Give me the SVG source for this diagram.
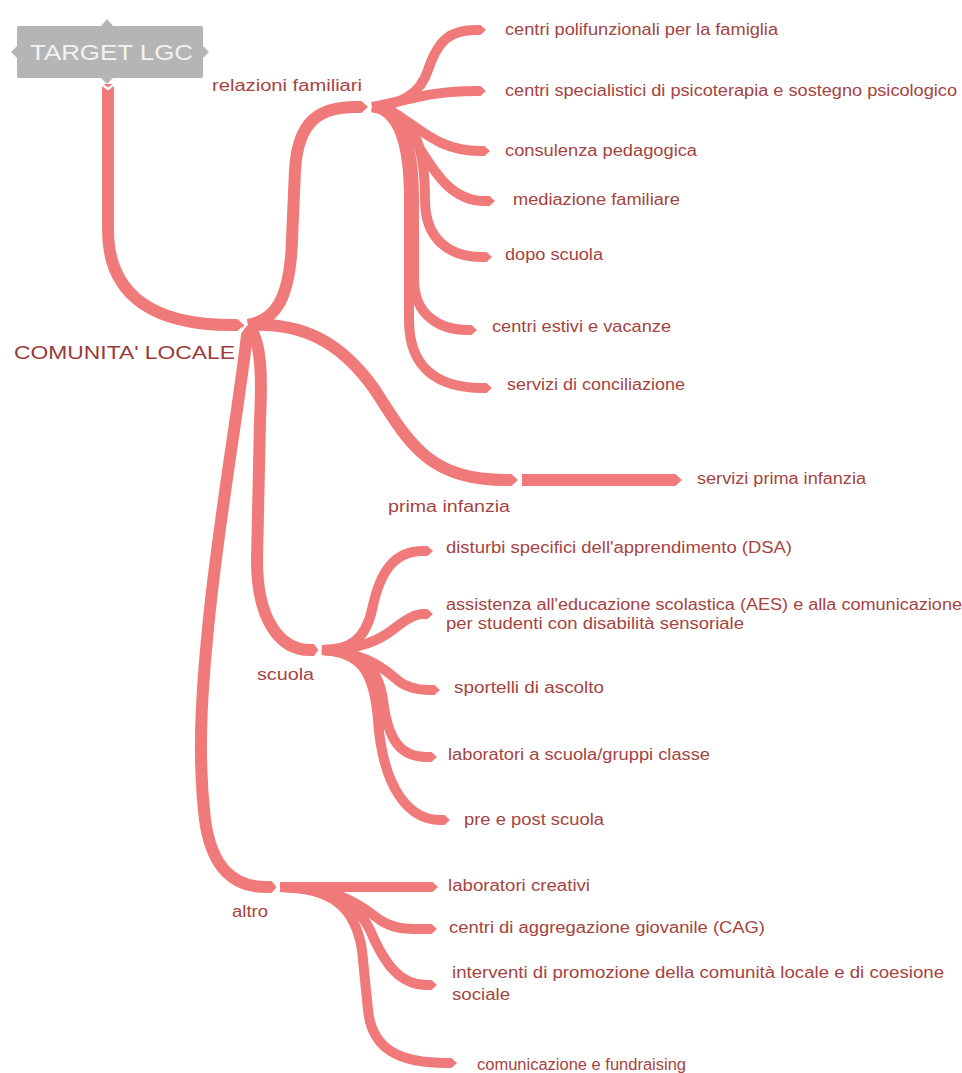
<svg xmlns="http://www.w3.org/2000/svg" width="962" height="1073" viewBox="0 0 962 1073">
<defs>
<marker id="tip" markerUnits="strokeWidth" markerWidth="1" markerHeight="1" viewBox="0 -0.5 1 1" refX="0" refY="0" orient="auto">
<path d="M0,-0.5 L0.45,-0.5 L1,0 L0.45,0.5 L0,0.5Z" fill="#f07a7a"/>
</marker>
<style>
.br{fill:none;stroke:#f07a7a;stroke-linecap:butt;stroke-linejoin:round}
.m{stroke-width:12}
.l{stroke-width:10}
.n{fill:none;stroke:#ffffff;stroke-width:2.5}
.t{font-family:"Liberation Sans",Arial,sans-serif;font-size:16px;fill:#a5443f}
.c{font-family:"Liberation Sans",Arial,sans-serif;font-size:19px;fill:#9c3a38}
</style>
</defs>
<rect width="962" height="1073" fill="#ffffff"/>
<g id="connectors">
<path class="br m" marker-end="url(#tip)" d="M108,84 L108,230 C108,300 160,325 232,325"/>
<path class="br m" marker-end="url(#tip)" d="M248,325 C275,320 290,300 292,240 L295,170 C298,120 320,107 356,107"/>
<path class="br m" marker-end="url(#tip)" d="M248,325 C300,322 340,340 375,390 C410,445 430,480 506,480"/>
<path class="br m" marker-end="url(#tip)" d="M522,480 L670,480"/>
<path class="br m" marker-end="url(#tip)" d="M248,325 C262,340 262,380 260,420 L257,560 C257,620 280,650 310,650"/>
<path class="br m" marker-end="url(#tip)" d="M248,325 C243,380 222,500 211,600 C200,700 198,760 205,820 C212,870 235,887 266,887"/>
<path class="br l" marker-end="url(#tip)" d="M372,107 C400,105 420,95 428,70 C438,40 450,30 476,30"/>
<path class="br l" marker-end="url(#tip)" d="M372,107 C410,100 430,91 476,91"/>
<path class="br l" marker-end="url(#tip)" d="M372,107 C410,110 425,151 480,151"/>
<path class="br l" marker-end="url(#tip)" d="M372,107 C420,110 425,201 485,201"/>
<path class="br l" marker-end="url(#tip)" d="M372,107 C420,110 425,160 425,200 C425,240 450,257 482,257"/>
<path class="br l" marker-end="url(#tip)" d="M372,107 C405,110 414,150 414,200 L414,280 C414,315 440,330 467,330"/>
<path class="br l" marker-end="url(#tip)" d="M372,107 C400,110 409,150 409,200 L409,320 C409,370 440,388 482,388"/>
<path class="br l" marker-end="url(#tip)" d="M322,650 C350,650 365,640 372,610 C380,570 395,551 423,551"/>
<path class="br l" marker-end="url(#tip)" d="M322,650 C360,650 380,640 395,628 C405,620 415,614 423,614"/>
<path class="br l" marker-end="url(#tip)" d="M322,650 C360,652 380,665 395,678 C405,688 420,690 430,690"/>
<path class="br l" marker-end="url(#tip)" d="M322,650 C360,652 378,665 383,700 C388,740 400,757 427,757"/>
<path class="br l" marker-end="url(#tip)" d="M322,650 C360,652 374,670 378,720 C383,790 410,820 440,820"/>
<path class="br l" marker-end="url(#tip)" d="M280,887 L428,887"/>
<path class="br l" marker-end="url(#tip)" d="M280,887 C340,888 360,905 380,920 C395,930 410,929 427,929"/>
<path class="br l" marker-end="url(#tip)" d="M280,887 C330,888 355,900 370,930 C385,965 400,985 427,985"/>
<path class="br l" marker-end="url(#tip)" d="M280,887 C330,888 355,905 362,950 L368,1010 C372,1050 400,1063 447,1063"/>
<polyline class="n" points="239,316 246,325 239,334"/>
<polyline class="n" points="364,99 370,107 364,115"/>
<polyline class="n" points="514,472 520,480 514,488"/>
<polyline class="n" points="314,642 320,650 314,658"/>
<polyline class="n" points="272,879 278,887 272,895"/>
<polyline class="n" points="100,83 108,89 116,83"/>
</g>
<g id="target-lgc">
<rect x="17" y="26" width="186" height="52" rx="2" fill="#b5b5b5"/>
<polygon points="101,26 107,19 113,26" fill="#b5b5b5"/>
<polygon points="101,78 107,84 113,78" fill="#b5b5b5"/>
<polygon points="17,46 11,52 17,58" fill="#b5b5b5"/>
<polygon points="203,46 209,52 203,58" fill="#b5b5b5"/>
<text x="30" y="60" font-family="Liberation Sans, Arial, sans-serif" font-size="22" fill="#f2f2f2" textLength="163" lengthAdjust="spacingAndGlyphs">TARGET LGC</text>
</g>
<g id="comunita-locale"><text class="c" x="14" y="359" textLength="221" lengthAdjust="spacingAndGlyphs">COMUNITA' LOCALE</text></g>
<g id="relazioni-familiari"><text class="t" x="212" y="91" textLength="150" lengthAdjust="spacingAndGlyphs">relazioni familiari</text></g>
<g id="centri-polifunzionali"><text class="t" x="505" y="35" textLength="273" lengthAdjust="spacingAndGlyphs">centri polifunzionali per la famiglia</text></g>
<g id="centri-specialistici"><text class="t" x="505" y="96" textLength="452" lengthAdjust="spacingAndGlyphs">centri specialistici di psicoterapia e sostegno psicologico</text></g>
<g id="consulenza"><text class="t" x="505" y="156" textLength="192" lengthAdjust="spacingAndGlyphs">consulenza pedagogica</text></g>
<g id="mediazione"><text class="t" x="513" y="205" textLength="167" lengthAdjust="spacingAndGlyphs">mediazione familiare</text></g>
<g id="dopo-scuola"><text class="t" x="505" y="260" textLength="98" lengthAdjust="spacingAndGlyphs">dopo scuola</text></g>
<g id="centri-estivi"><text class="t" x="492" y="332" textLength="179" lengthAdjust="spacingAndGlyphs">centri estivi e vacanze</text></g>
<g id="servizi-conciliazione"><text class="t" x="507" y="390" textLength="178" lengthAdjust="spacingAndGlyphs">servizi di conciliazione</text></g>
<g id="prima-infanzia"><text class="t" x="388" y="512" textLength="122" lengthAdjust="spacingAndGlyphs">prima infanzia</text></g>
<g id="servizi-prima-infanzia"><text class="t" x="697" y="484" textLength="169" lengthAdjust="spacingAndGlyphs">servizi prima infanzia</text></g>
<g id="scuola"><text class="t" x="257" y="680" textLength="57" lengthAdjust="spacingAndGlyphs">scuola</text></g>
<g id="dsa"><text class="t" x="446" y="553" textLength="346" lengthAdjust="spacingAndGlyphs">disturbi specifici dell'apprendimento (DSA)</text></g>
<g id="aes"><text class="t" x="446" y="610" textLength="516" lengthAdjust="spacingAndGlyphs">assistenza all'educazione scolastica (AES) e alla comunicazione</text><text class="t" x="446" y="629" textLength="298" lengthAdjust="spacingAndGlyphs">per studenti con disabilità sensoriale</text></g>
<g id="sportelli"><text class="t" x="454" y="693" textLength="150" lengthAdjust="spacingAndGlyphs">sportelli di ascolto</text></g>
<g id="laboratori-scuola"><text class="t" x="448" y="760" textLength="262" lengthAdjust="spacingAndGlyphs">laboratori a scuola/gruppi classe</text></g>
<g id="pre-post"><text class="t" x="464" y="825" textLength="140" lengthAdjust="spacingAndGlyphs">pre e post scuola</text></g>
<g id="altro"><text class="t" x="232" y="917" textLength="36" lengthAdjust="spacingAndGlyphs">altro</text></g>
<g id="laboratori-creativi"><text class="t" x="448" y="891" textLength="142" lengthAdjust="spacingAndGlyphs">laboratori creativi</text></g>
<g id="cag"><text class="t" x="449" y="933" textLength="316" lengthAdjust="spacingAndGlyphs">centri di aggregazione giovanile (CAG)</text></g>
<g id="interventi"><text class="t" x="452" y="978" textLength="492" lengthAdjust="spacingAndGlyphs">interventi di promozione della comunità locale e di coesione</text><text class="t" x="452" y="1000" textLength="58" lengthAdjust="spacingAndGlyphs">sociale</text></g>
<g id="comunicazione"><text class="t" x="477" y="1070" textLength="209" lengthAdjust="spacingAndGlyphs">comunicazione e fundraising</text></g>
</svg>
